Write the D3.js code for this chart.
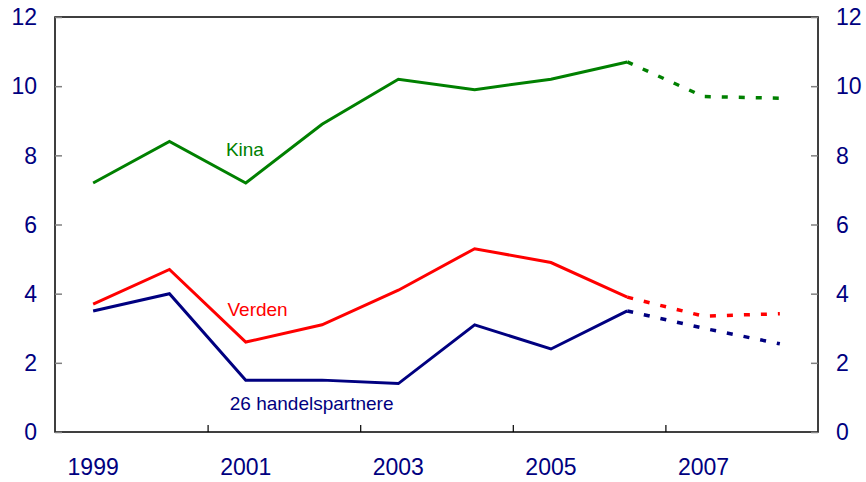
<!DOCTYPE html>
<html>
<head>
<meta charset="utf-8">
<script src="https://cdn.jsdelivr.net/npm/d3@7"></script>
<style>
  body { margin: 0; background: #fff; }
  text { font-family: "Liberation Sans", Arial, sans-serif; }
</style>
</head>
<body>
<svg></svg>
<script>
// yearly growth, last two years are forecasts (dashed)
var years = [1999, 2000, 2001, 2002, 2003, 2004, 2005, 2006, 2007, 2008];
var kina = [7.2, 8.4, 7.2, 8.9, 10.2, 9.9, 10.2, 10.7, 9.7, 9.65];
var verden = [3.7, 4.7, 2.6, 3.1, 4.1, 5.3, 4.9, 3.9, 3.35, 3.42];
var handel = [3.5, 4.0, 1.5, 1.5, 1.4, 3.1, 2.4, 3.5, 3.0, 2.55];
var yTicks = [0, 2, 4, 6, 8, 10, 12];
var xLabels = [1999, 2001, 2003, 2005, 2007];
var xTickMarks = [2001, 2003, 2005, 2007];
var lastActual = 2006;

var screen = {width: 866, height: 482};
var margin = {top: 17, right: 48, bottom: 50, left: 55};

var svg = d3.select("svg")
    .attr("width", screen.width)
    .attr("height", screen.height);

var xScale = d3.scaleLinear()
    .domain([1999, 2009])
    .range([margin.left, screen.width - margin.right]);

var yScale = d3.scaleLinear()
    .domain([0, 12])
    .range([screen.height - margin.bottom, margin.top]);

var navy = "#000080";

// frame
svg.append("rect")
    .attr("x", xScale(1999))
    .attr("y", yScale(12))
    .attr("width", xScale(2009) - xScale(1999))
    .attr("height", yScale(0) - yScale(12))
    .attr("fill", "none")
    .attr("stroke", "#000")
    .attr("stroke-width", 1.5);

// y ticks both sides
var leftAxis = d3.axisRight(yScale).tickValues(yTicks).tickSize(7).tickFormat("");
var rightAxis = d3.axisLeft(yScale).tickValues(yTicks).tickSize(7).tickFormat("");
svg.append("g").attr("transform", "translate(" + xScale(1999) + ",0)").call(leftAxis);
svg.append("g").attr("transform", "translate(" + xScale(2009) + ",0)").call(rightAxis);
svg.selectAll(".domain").remove();
svg.selectAll(".tick line").attr("stroke", "#808080").attr("stroke-width", 1.5);

// y labels
svg.append("g").selectAll("text")
    .data(yTicks)
    .enter()
    .append("text")
    .attr("x", xScale(1999) - 18)
    .attr("y", function(d){ return yScale(d); })
    .attr("dy", "0.36em")
    .attr("text-anchor", "end")
    .attr("font-size", 23)
    .attr("fill", navy)
    .text(function(d){ return d; });

svg.append("g").selectAll("text")
    .data(yTicks)
    .enter()
    .append("text")
    .attr("x", xScale(2009) + 18)
    .attr("y", function(d){ return yScale(d); })
    .attr("dy", "0.36em")
    .attr("text-anchor", "start")
    .attr("font-size", 23)
    .attr("fill", navy)
    .text(function(d){ return d; });

// x ticks (inside, from bottom)
var xAxis = d3.axisTop(xScale).tickValues(xTickMarks).tickSize(7).tickFormat("");
svg.append("g").attr("transform", "translate(0," + yScale(0) + ")").call(xAxis)
    .call(function(g){ g.select(".domain").remove(); })
    .selectAll(".tick line").attr("stroke", "#000").attr("stroke-width", 1.2);

svg.append("g").selectAll("text")
    .data(xLabels)
    .enter()
    .append("text")
    .attr("x", function(d){ return xScale(d + 0.5); })
    .attr("y", 475)
    .attr("text-anchor", "middle")
    .attr("font-size", 23)
    .attr("fill", navy)
    .text(function(d){ return d; });

// lines
var drawSeries = function(values, color) {
    var pts = values.map(function(v, i){ return {x: years[i], y: v}; });
    var line = d3.line()
        .x(function(p){ return xScale(p.x + 0.5); })
        .y(function(p){ return yScale(p.y); });
    var actual = pts.filter(function(p){ return p.x <= lastActual; });
    var forecast = pts.filter(function(p){ return p.x >= lastActual; });
    svg.append("path")
        .attr("d", line(actual))
        .attr("fill", "none")
        .attr("stroke", color)
        .attr("stroke-width", 3);
    svg.append("path")
        .attr("d", line(forecast))
        .attr("fill", "none")
        .attr("stroke", color)
        .attr("stroke-width", 3.5)
        .attr("stroke-dasharray", "6,11");
};

drawSeries(kina, "#008000");
drawSeries(verden, "#ff0000");
drawSeries(handel, navy);

// series labels
var labels = [
    {text: "Kina", x: 2001.24, y: 7.98, color: "#008000"},
    {text: "Verden", x: 2001.26, y: 3.34, color: "#ff0000"},
    {text: "26 handelspartnere", x: 2001.29, y: 0.64, color: navy}
];
svg.append("g").selectAll("text")
    .data(labels)
    .enter()
    .append("text")
    .attr("x", function(d){ return xScale(d.x); })
    .attr("y", function(d){ return yScale(d.y); })
    .attr("font-size", 19)
    .attr("fill", function(d){ return d.color; })
    .text(function(d){ return d.text; });
</script>
</body>
</html>
